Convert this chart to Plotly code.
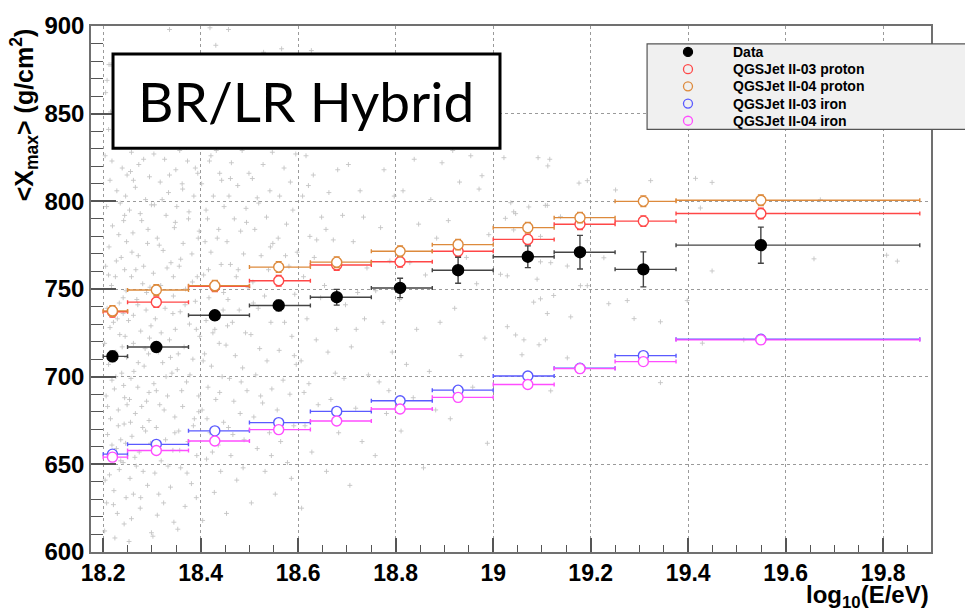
import plotly.graph_objects as go

# ---- binned <Xmax> results ----
log_e = [18.219, 18.309, 18.429, 18.560, 18.679, 18.809, 18.928, 19.071, 19.178, 19.308, 19.549]
bin_lo = [18.2, 18.25, 18.375, 18.5, 18.625, 18.75, 18.875, 19.0, 19.125, 19.25, 19.375]
bin_hi = [18.25, 18.375, 18.5, 18.625, 18.75, 18.875, 19.0, 19.125, 19.25, 19.375, 19.875]

data_xmax = [711.6, 716.9, 735.0, 740.6, 745.3, 750.6, 760.7, 768.4, 771.0, 761.2, 775.0]
data_err = [3.0, 2.5, 2.5, 3.0, 4.5, 5.5, 7.4, 6.2, 9.6, 10.0, 10.3]

qgs03_proton = [737.0, 742.5, 751.5, 754.7, 763.7, 765.5, 771.5, 778.3, 786.9, 788.7, 793.1]
qgs04_proton = [737.5, 749.4, 751.9, 762.5, 765.3, 771.5, 775.3, 785.0, 790.7, 800.0, 800.6]
qgs03_iron = [655.8, 661.4, 669.1, 673.8, 680.2, 686.3, 692.3, 700.4, 704.8, 712.0, 721.3]
qgs04_iron = [654.1, 657.9, 663.3, 669.8, 674.7, 681.6, 688.2, 695.5, 704.6, 708.6, 721.0]
proton_err = [3.0] * 11
iron_err = [1.5] * 11

# ---- individual events (log10 E, Xmax), grouped by energy band ----
events_1820_1825 = [
    (18.203, 612), (18.207, 628), (18.204, 641), (18.212, 655), (18.209, 667), (18.215, 676),
    (18.206, 689), (18.218, 698), (18.211, 707), (18.203, 719), (18.214, 728), (18.208, 739),
    (18.217, 752), (18.205, 763), (18.212, 774), (18.219, 786), (18.207, 797), (18.214, 812),
    (18.204, 826), (18.211, 841), (18.216, 878), (18.224, 608), (18.229, 622), (18.222, 635),
    (18.233, 647), (18.227, 659), (18.236, 664), (18.231, 681), (18.223, 693), (18.238, 702),
    (18.226, 714), (18.234, 724), (18.229, 733), (18.241, 745), (18.225, 757), (18.237, 768),
    (18.232, 781), (18.244, 792), (18.228, 806), (18.239, 819), (18.233, 834), (18.243, 616),
    (18.247, 631), (18.241, 651), (18.246, 662), (18.243, 673), (18.249, 684), (18.242, 695),
    (18.248, 711), (18.245, 723), (18.241, 736), (18.247, 749), (18.244, 761), (18.248, 777),
    (18.242, 789), (18.246, 803), (18.249, 815), (18.221, 627), (18.213, 644), (18.236, 652),
    (18.218, 661), (18.231, 672), (18.209, 683), (18.244, 688), (18.226, 700), (18.215, 711),
    (18.239, 717), (18.221, 731), (18.233, 742), (18.211, 758), (18.227, 766), (18.235, 799),
    (18.218, 823), (18.247, 841), (18.212, 878), (18.205, 862), (18.215, 851), (18.208, 869),
]
events_1825_1830 = [
    (18.253, 606), (18.258, 619), (18.262, 633), (18.255, 642), (18.268, 649), (18.274, 657),
    (18.259, 666), (18.281, 671), (18.266, 679), (18.289, 686), (18.271, 694), (18.257, 699),
    (18.284, 706), (18.293, 713), (18.262, 719), (18.277, 726), (18.252, 732), (18.288, 738),
    (18.269, 744), (18.296, 751), (18.258, 757), (18.283, 763), (18.272, 769), (18.291, 776),
    (18.261, 782), (18.279, 789), (18.254, 795), (18.287, 801), (18.266, 808), (18.295, 814),
    (18.273, 821), (18.258, 828), (18.285, 836), (18.268, 842), (18.299, 611), (18.276, 625),
    (18.291, 638), (18.282, 646), (18.297, 662), (18.256, 674), (18.279, 683), (18.294, 691),
    (18.263, 703), (18.286, 716), (18.298, 729), (18.271, 741), (18.289, 748), (18.259, 771),
    (18.292, 784), (18.276, 793), (18.262, 812), (18.283, 824), (18.298, 833), (18.265, 654),
    (18.287, 669), (18.254, 687), (18.272, 708), (18.295, 722), (18.281, 753), (18.267, 761),
    (18.299, 798), (18.256, 817), (18.277, 631), (18.294, 675), (18.262, 735),
]
events_1830_1840 = [
    (18.302, 609), (18.311, 621), (18.324, 628), (18.338, 637), (18.306, 645), (18.319, 652),
    (18.343, 658), (18.328, 664), (18.309, 671), (18.347, 677), (18.316, 684), (18.332, 689),
    (18.304, 696), (18.341, 702), (18.322, 708), (18.313, 714), (18.336, 721), (18.348, 727),
    (18.307, 733), (18.327, 739), (18.344, 746), (18.318, 752), (18.303, 759), (18.339, 765),
    (18.323, 772), (18.311, 779), (18.346, 785), (18.329, 792), (18.305, 798), (18.334, 805),
    (18.317, 811), (18.349, 818), (18.326, 824), (18.308, 831), (18.341, 838), (18.321, 843),
    (18.345, 617), (18.314, 633), (18.333, 649), (18.302, 661), (18.347, 668), (18.325, 681),
    (18.309, 692), (18.338, 711), (18.319, 725), (18.343, 736), (18.306, 749), (18.331, 762),
    (18.315, 775), (18.348, 788), (18.321, 801), (18.336, 815), (18.304, 827), (18.329, 700),
    (18.312, 742), (18.344, 757), (18.336, 898),
    (18.353, 613), (18.368, 626), (18.381, 639), (18.359, 648), (18.392, 655), (18.374, 663),
    (18.355, 669), (18.387, 676), (18.363, 683), (18.396, 689), (18.371, 697), (18.352, 704),
    (18.384, 710), (18.366, 717), (18.398, 723), (18.377, 730), (18.358, 737), (18.389, 743),
    (18.369, 750), (18.393, 757), (18.356, 763), (18.382, 770), (18.364, 776), (18.397, 783),
    (18.375, 790), (18.351, 797), (18.386, 803), (18.362, 810), (18.394, 816), (18.373, 823),
    (18.357, 829), (18.388, 836), (18.367, 841), (18.391, 631), (18.372, 645), (18.357, 658),
    (18.385, 672), (18.396, 680), (18.361, 692), (18.378, 701), (18.354, 713), (18.391, 727),
    (18.368, 741), (18.383, 754), (18.359, 767), (18.395, 779), (18.376, 794), (18.363, 807),
    (18.389, 819), (18.371, 831),
]
events_1840_1850 = [
    (18.404, 618), (18.428, 634), (18.441, 646), (18.412, 653), (18.436, 661), (18.419, 668),
    (18.447, 674), (18.403, 681), (18.431, 687), (18.415, 694), (18.444, 700), (18.422, 706),
    (18.408, 713), (18.438, 719), (18.425, 725), (18.411, 732), (18.446, 738), (18.417, 745),
    (18.433, 751), (18.406, 758), (18.442, 764), (18.421, 771), (18.409, 777), (18.437, 784),
    (18.414, 790), (18.448, 797), (18.426, 803), (18.402, 810), (18.439, 816), (18.418, 823),
    (18.432, 829), (18.407, 836), (18.445, 842), (18.424, 657), (18.413, 676), (18.439, 691),
    (18.405, 709), (18.429, 727), (18.447, 748), (18.416, 761), (18.434, 779), (18.411, 795),
    (18.443, 812), (18.421, 826), (18.419, 899), (18.457, 898), (18.431, 889),
    (18.453, 622), (18.474, 641), (18.462, 655), (18.489, 664), (18.457, 671), (18.481, 679),
    (18.468, 686), (18.495, 692), (18.459, 699), (18.486, 705), (18.471, 712), (18.452, 718),
    (18.492, 725), (18.465, 731), (18.479, 738), (18.456, 744), (18.497, 751), (18.473, 757),
    (18.461, 764), (18.488, 770), (18.454, 777), (18.482, 783), (18.469, 790), (18.493, 796),
    (18.458, 803), (18.476, 809), (18.499, 816), (18.463, 822), (18.485, 829), (18.472, 835),
    (18.491, 841), (18.466, 667), (18.483, 697), (18.455, 729), (18.477, 761), (18.494, 788),
    (18.461, 813), (18.487, 648),
]
events_1850_1860 = [
    (18.504, 628), (18.532, 646), (18.516, 659), (18.541, 668), (18.509, 677), (18.527, 685),
    (18.546, 693), (18.513, 701), (18.536, 709), (18.521, 716), (18.503, 724), (18.544, 731),
    (18.518, 739), (18.531, 746), (18.507, 754), (18.539, 761), (18.524, 769), (18.548, 776),
    (18.511, 784), (18.535, 791), (18.519, 799), (18.542, 806), (18.506, 813), (18.528, 821),
    (18.547, 828), (18.514, 835), (18.537, 841), (18.523, 689), (18.508, 742), (18.543, 774),
    (18.516, 802), (18.529, 885), (18.545, 655),
    (18.553, 633), (18.578, 651), (18.564, 663), (18.591, 672), (18.557, 681), (18.583, 690),
    (18.569, 698), (18.596, 707), (18.561, 715), (18.587, 723), (18.572, 731), (18.554, 739),
    (18.593, 747), (18.566, 755), (18.581, 763), (18.598, 771), (18.559, 779), (18.576, 787),
    (18.589, 795), (18.562, 803), (18.584, 811), (18.571, 819), (18.595, 827), (18.558, 834),
    (18.579, 840), (18.566, 887), (18.592, 712), (18.574, 769), (18.586, 642),
]
events_1860_1880 = [
    (18.607, 625), (18.628, 657), (18.614, 672), (18.641, 684), (18.622, 696), (18.606, 709),
    (18.637, 721), (18.618, 733), (18.646, 745), (18.611, 757), (18.633, 768), (18.624, 780),
    (18.648, 791), (18.609, 803), (18.631, 815), (18.616, 826), (18.643, 838), (18.627, 886),
    (18.612, 691), (18.638, 778), (18.621, 809),
    (18.658, 646), (18.683, 668), (18.667, 687), (18.694, 699), (18.661, 714), (18.679, 727),
    (18.697, 741), (18.654, 752), (18.686, 766), (18.672, 778), (18.691, 792), (18.663, 805),
    (18.681, 818), (18.669, 831), (18.695, 841), (18.676, 702), (18.657, 784),
    (18.706, 638), (18.731, 663), (18.718, 682), (18.744, 701), (18.709, 717), (18.736, 733),
    (18.722, 748), (18.741, 762), (18.713, 777), (18.734, 791), (18.727, 806), (18.703, 821),
    (18.746, 835), (18.719, 727),
    (18.758, 655), (18.781, 679), (18.766, 697), (18.793, 714), (18.774, 731), (18.759, 749),
    (18.788, 766), (18.769, 785), (18.797, 803), (18.776, 818), (18.762, 832), (18.786, 692),
]
events_1880_1900 = [
    (18.811, 669), (18.836, 688), (18.822, 707), (18.843, 727), (18.808, 744), (18.829, 765),
    (18.847, 787), (18.815, 806), (18.838, 824), (18.824, 838),
    (18.857, 648), (18.882, 681), (18.869, 703), (18.891, 731), (18.861, 758), (18.884, 779),
    (18.872, 801), (18.895, 822), (18.866, 836),
    (18.912, 676), (18.934, 712), (18.921, 739), (18.945, 768), (18.908, 789), (18.931, 811),
    (18.917, 829), (18.958, 694), (18.983, 722), (18.966, 753), (18.991, 781), (18.971, 807),
    (18.954, 826), (18.988, 662), (18.977, 814.6),
]
events_above_1900 = [
    (19.015, 758.4), (19.029, 757.5), (19.090, 755.6), (19.097, 765.5), (19.118, 765.0),
    (19.152, 763.1), (19.179, 751.9), (19.193, 751.9), (19.227, 767.8), (19.083, 742.5),
    (19.097, 744.4), (19.111, 736.0), (19.124, 746.3), (19.159, 734.1), (19.029, 728.5),
    (19.046, 723.8), (19.063, 721.0), (19.094, 718.2), (19.107, 721.0), (19.059, 712.5),
    (19.152, 710.7), (19.275, 743.4), (19.237, 741.6), (19.289, 733.1), (19.343, 731.3),
    (19.398, 743.4), (19.429, 719.1), (19.449, 760.3), (19.514, 721.0), (19.658, 767.2),
    (19.807, 769.3), (19.829, 765.9), (19.343, 696.6), (19.118, 691.9), (19.073, 796.8),
    (19.042, 794.0), (19.111, 797.7), (19.025, 790.3), (19.022, 824.9), (19.092, 824.9),
    (19.116, 824.0), (19.112, 820.2), (19.176, 810.4), (19.193, 811.8), (19.251, 806.5),
    (19.323, 811.8), (19.415, 813.1), (19.449, 810.8), (19.036, 799.2), (19.107, 797.7),
    (19.046, 793.0), (19.425, 796.2), (19.671, 800.9), (19.097, 780.0), (19.138, 791.2),
    (19.042, 783.7),
]

# ---- axis ticks ----
x_tickvals = [18.2, 18.4, 18.6, 18.8, 19.0, 19.2, 19.4, 19.6, 19.8]
x_ticktext = ["18.2", "18.4", "18.6", "18.8", "19", "19.2", "19.4", "19.6", "19.8"]
y_tickvals = [600, 650, 700, 750, 800, 850, 900]

FONT = "Liberation Sans, Arial, Helvetica, sans-serif"

# series styling: (label, values, errors, colour, filled marker, size, error-bar colour)
SERIES = [
    ("QGSJet II-03 proton", qgs03_proton, proton_err, "#ff4747", False, 10, None),
    ("QGSJet II-04 proton", qgs04_proton, proton_err, "#dd8a3c", False, 10, None),
    ("QGSJet II-03 iron", qgs03_iron, iron_err, "#5a5aff", False, 10, None),
    ("QGSJet II-04 iron", qgs04_iron, iron_err, "#ff4dff", False, 10, None),
    ("Data", data_xmax, data_err, "#000000", True, 11, "#444444"),
]
LEGEND_ORDER = ["Data", "QGSJet II-03 proton", "QGSJet II-04 proton",
                "QGSJet II-03 iron", "QGSJet II-04 iron"]

all_events = (events_1820_1825 + events_1825_1830 + events_1830_1840 + events_1840_1850
              + events_1850_1860 + events_1860_1880 + events_1880_1900 + events_above_1900)
ev_x = [p[0] for p in all_events]
ev_y = [p[1] for p in all_events]

fig = go.Figure()

fig.add_trace(go.Scatter(
    x=ev_x, y=ev_y, mode="markers", showlegend=False, hoverinfo="skip",
    marker=dict(symbol="cross-thin", size=3.5, color="#c4c4c4",
                line=dict(width=0.9, color="#c4c4c4")),
))

xerr_plus = [h - x for h, x in zip(bin_hi, log_e)]
xerr_minus = [x - l for l, x in zip(bin_lo, log_e)]

for name, y, err, color, filled, msize, bar_color in SERIES:
    bar_color = bar_color or color
    fig.add_trace(go.Scatter(
        x=log_e, y=y, mode="markers", name=name, showlegend=False,
        marker=dict(symbol="circle", size=msize, color=color if filled else "#ffffff",
                    line=dict(width=1.4, color=color)),
        error_x=dict(type="data", symmetric=False, array=xerr_plus, arrayminus=xerr_minus,
                     color=bar_color, thickness=1.4, width=2),
        error_y=dict(type="data", array=err, color=bar_color, thickness=1.4, width=3),
    ))

axis_common = dict(
    showline=True, linecolor="#707070", linewidth=1.5, mirror=True,
    showgrid=True, gridcolor="#9a9a9a", griddash="dot", gridwidth=1,
    ticks="inside", tickcolor="#555555", tickwidth=1.5,
    zeroline=False,
)

fig.update_xaxes(
    range=[18.175, 19.898], tickvals=x_tickvals, ticktext=x_ticktext, ticklen=14,
    tickfont=dict(family=FONT, size=23, color="#000000", weight="bold"),
    minor=dict(dtick=0.05, tick0=18.2, ticks="inside", ticklen=7, tickcolor="#555555",
               tickwidth=1.2, showgrid=False),
    **axis_common,
)
fig.update_yaxes(
    range=[600, 900], tickvals=y_tickvals, ticklen=25,
    tickfont=dict(family=FONT, size=24, color="#000000", weight="bold"),
    minor=dict(dtick=10, tick0=600, ticks="inside", ticklen=12, tickcolor="#555555",
               tickwidth=1.2, showgrid=False),
    **axis_common,
)

shapes = [
    # legend panel
    dict(type="rect", xref="paper", yref="paper", x0=0.662, x1=1.06, y0=0.8034, y1=0.966,
         fillcolor="#f0f0f0", line=dict(color="#555555", width=1.2), layer="above"),
    # label panel
    dict(type="rect", xref="paper", yref="paper", x0=0.0262, x1=0.4869, y0=0.7678, y1=0.947,
         fillcolor="#ffffff", line=dict(color="#000000", width=3), layer="above"),
]

annotations = [
    dict(text="BR/LR Hybrid", xref="paper", yref="paper", x=0.2565, y=0.8574,
         xanchor="center", yanchor="middle", showarrow=False,
         font=dict(family="Lato, Open Sans, sans-serif", size=55, color="#000000")),
    dict(text="&lt;X<sub>max</sub>&gt; (g/cm<sup>2</sup>)", xref="paper", yref="paper",
         x=-0.08, y=1.0, xanchor="center", yanchor="top", textangle=-90, showarrow=False,
         font=dict(family=FONT, size=25, color="#000000", weight="bold")),
    dict(text="log<sub>10</sub>(E/eV)", xref="paper", yref="paper", x=1.0, y=0.0,
         xanchor="right", yanchor="top", yshift=-27, showarrow=False,
         font=dict(family=FONT, size=24, color="#000000", weight="bold")),
]

# legend entries: symbol + label inside the legend panel
style = {s[0]: s for s in SERIES}
row_top, row_step = 0.9507, 0.0327
for i, name in enumerate(LEGEND_ORDER):
    _, _, _, color, filled, _, _ = style[name]
    yc = row_top - i * row_step
    shapes.append(dict(
        type="circle", xref="paper", yref="paper", xsizemode="pixel", ysizemode="pixel",
        xanchor=0.7107, yanchor=yc, x0=-4.5, x1=4.5, y0=-4.5, y1=4.5,
        fillcolor=color if filled else "rgba(0,0,0,0)",
        line=dict(color=color, width=1.3), layer="above",
    ))
    annotations.append(dict(
        text=name, xref="paper", yref="paper", x=0.7619, y=yc,
        xanchor="left", yanchor="middle", showarrow=False,
        font=dict(family=FONT, size=14, color="#000000", weight="bold"),
    ))

fig.update_layout(
    width=965, height=613,
    margin=dict(l=91, r=34, t=18, b=61),
    paper_bgcolor="#ffffff", plot_bgcolor="#ffffff",
    shapes=shapes, annotations=annotations,
    showlegend=False,
)

fig.write_html("out.html")
